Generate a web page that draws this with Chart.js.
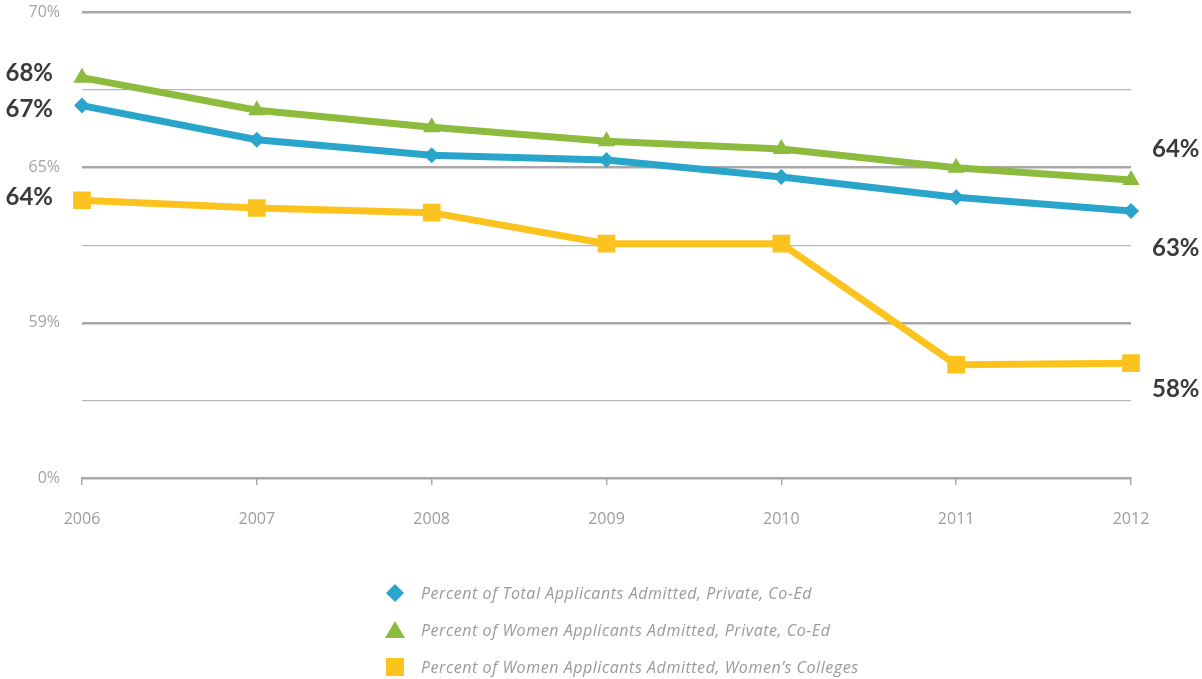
<!DOCTYPE html>
<html>
<head>
<meta charset="utf-8">
<script src="https://cdn.jsdelivr.net/npm/chart.js@4.4.1/dist/chart.umd.min.js"></script>
<style>
  html, body { margin: 0; padding: 0; background: #fff; }
  #wrap { position: relative; width: 1202px; height: 679px; }
</style>
</head>
<body>
<div id="wrap"><canvas id="admitChart" width="1202" height="679"></canvas></div>
<script>
// Data
const years = ['2006', '2007', '2008', '2009', '2010', '2011', '2012'];
const totalCoEd = [67.0, 65.9, 65.4, 65.25, 64.7, 64.05, 63.6];
const womenCoEd = [67.9, 66.85, 66.3, 65.85, 65.6, 65.0, 64.6];
const womenColleges = [63.95, 63.7, 63.55, 62.55, 62.55, 58.65, 58.7];
const seriesNames = [
  'Percent of Total Applicants Admitted, Private, Co-Ed',
  'Percent of Women Applicants Admitted, Private, Co-Ed',
  'Percent of Women Applicants Admitted, Women\u2019s Colleges'
];
const startLabels = ['67%', '68%', '64%'];
const endLabels = ['63%', '64%', '58%'];
const yTickValues = [55, 60, 65, 70];
const yTickText = ['0%', '59%', '65%', '70%'];

const colors = ['#29a5cb', '#8cbb3d', '#fcc21e'];
const shapes = ['rectRot', 'triangle', 'rect'];
const radii = [8, 10, 12.5];

// Offsets of the end-value callouts from their points
const startOffsets = [4, -4, -3];
const endOffsets = [37, -31, 26];

const calloutPlugin = {
  id: 'callouts',
  afterDatasetsDraw(chart) {
    const ctx = chart.ctx;
    ctx.save();
    ctx.font = 'bold 24px Lato, "Open Sans", sans-serif';
    ctx.fillStyle = '#3a3a3a';
    ctx.textBaseline = 'middle';
    chart.data.datasets.forEach((ds, i) => {
      const meta = chart.getDatasetMeta(i);
      const first = meta.data[0];
      const last = meta.data[meta.data.length - 1];
      ctx.textAlign = 'right';
      ctx.fillText(startLabels[i], 53, first.y + startOffsets[i]);
      ctx.textAlign = 'left';
      ctx.fillText(endLabels[i], 1152, last.y + endOffsets[i]);
    });
    // legend
    ctx.font = 'italic 16px "Open Sans", sans-serif';
    ctx.letterSpacing = '0.55px';
    chart.data.datasets.forEach((ds, i) => {
      const y = 593 + i * 37;
      ctx.fillStyle = colors[i];
      ctx.beginPath();
      if (i === 0) {
        ctx.moveTo(395, y - 9); ctx.lineTo(404, y); ctx.lineTo(395, y + 9); ctx.lineTo(386, y);
      } else if (i === 1) {
        ctx.moveTo(395, y - 9); ctx.lineTo(405, y + 8); ctx.lineTo(385, y + 8);
      } else {
        ctx.rect(386, y - 9, 18, 18);
      }
      ctx.closePath();
      ctx.fill();
      ctx.fillStyle = '#9a9a9a';
      ctx.textAlign = 'left';
      ctx.fillText(seriesNames[i], 421, y + 1);
    });
    ctx.restore();
  }
};

const admitChart = new Chart(
  document.getElementById('admitChart'),
  {
    type: 'line',
    data: {
      labels: years,
      datasets: [totalCoEd, womenCoEd, womenColleges].map((vals, i) => ({
        label: seriesNames[i],
        data: vals,
        borderColor: colors[i],
        backgroundColor: colors[i],
        borderWidth: 7,
        pointStyle: shapes[i],
        pointRadius: radii[i],
        pointBorderWidth: 0,
        tension: 0,
        order: i
      }))
    },
    options: {
      responsive: false,
      animation: false,
      layout: { padding: { left: 0, right: 71, top: 10, bottom: 0 } },
      plugins: {
        legend: { display: false },
        tooltip: { enabled: false }
      },
      scales: {
        x: {
          offset: false,
          border: { color: '#aaa', width: 2 },
          grid: { drawOnChartArea: false, tickLength: 7, color: '#aaa', lineWidth: 1.5 },
          ticks: {
            padding: 25,
            maxRotation: 0,
            color: '#9d9d9d',
            font: { family: '"Open Sans", sans-serif', size: 16 }
          },
          afterFit(scale) { scale.height = 201; }
        },
        y: {
          min: 55,
          max: 70,
          border: { display: false },
          grid: {
            drawTicks: true,
            tickLength: 22,
            tickColor: 'rgba(0,0,0,0)',
            color: ctx => yTickValues.includes(ctx.tick.value) ? '#a8a8a8' : '#b8b8b8',
            lineWidth: ctx => yTickValues.includes(ctx.tick.value) ? 2.5 : 1.3
          },
          ticks: {
            stepSize: 2.5,
            padding: 0,
            color: '#a3a3a3',
            font: { family: '"Open Sans", sans-serif', size: 16 },
            callback: v => {
              const k = yTickValues.indexOf(v);
              return k >= 0 ? yTickText[k] : '';
            }
          },
          afterFit(scale) { scale.width = 82; }
        }
      }
    },
    plugins: [calloutPlugin]
  }
);
</script>
</body>
</html>
